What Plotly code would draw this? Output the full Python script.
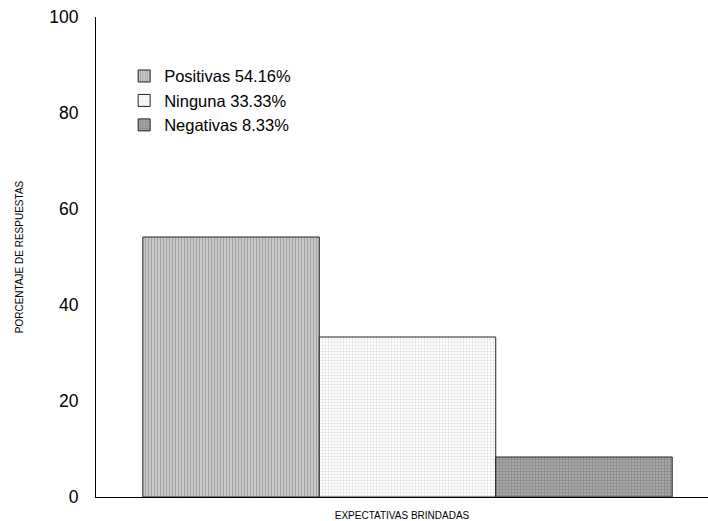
import plotly.graph_objects as go

categorias = ["Positivas", "Ninguna", "Negativas"]
porcentajes = [54.16, 33.33, 8.33]
etiquetas = ["Positivas 54.16%", "Ninguna 33.33%", "Negativas 8.33%"]
grupo = ["EXPECTATIVAS BRINDADAS"]
y_ticks = [0, 20, 40, 60, 80, 100]

patrones = [
    dict(shape="|", fgcolor="#7a7a7a", bgcolor="#cfcfcf", size=3, solidity=0.45),
    dict(shape=".", fgcolor="#b8b8b8", bgcolor="#ffffff", size=3, solidity=0.35),
    dict(shape="+", fgcolor="#666666", bgcolor="#a8a8a8", size=3, solidity=0.4),
]

fig = go.Figure()
for cat, val, lab, pat in zip(categorias, porcentajes, etiquetas, patrones):
    fig.add_trace(go.Bar(
        x=grupo, y=[val], name=lab,
        marker=dict(color=pat["bgcolor"], pattern=pat,
                    line=dict(color="#222222", width=1)),
    ))

fig.update_layout(
    width=708, height=521,
    margin=dict(l=96, r=0, t=17, b=24),
    paper_bgcolor="white", plot_bgcolor="white",
    barmode="group", bargap=0.135, bargroupgap=0,
    font=dict(family="Liberation Sans, Arial", color="black", size=16),
    legend=dict(x=0.046, y=0.913, xanchor="left", yanchor="top",
                bgcolor="rgba(0,0,0,0)", font=dict(size=16.5),
                itemwidth=30, tracegroupgap=0),
    xaxis=dict(range=[-0.509, 0.491], showline=True, linecolor="black",
               linewidth=1, showticklabels=False, ticks="",
               title=dict(text="EXPECTATIVAS BRINDADAS", font=dict(size=10),
                          standoff=14),
               automargin=False),
    yaxis=dict(range=[0, 100], tickvals=y_ticks, showline=True,
               linecolor="black", linewidth=1, showgrid=False, ticks="",
               ticklabelstandoff=13, zeroline=False,
               tickfont=dict(size=17.5),
               title=dict(text="PORCENTAJE DE RESPUESTAS", font=dict(size=10),
                          standoff=23),
               automargin=False),
)

fig.write_html("out.html")
